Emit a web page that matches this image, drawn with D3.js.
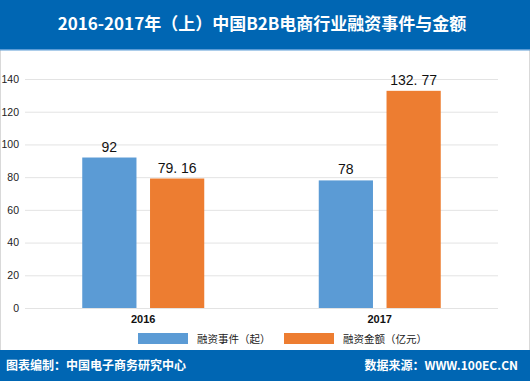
<!DOCTYPE html>
<html>
<head>
<meta charset="utf-8">
<script src="https://cdn.jsdelivr.net/npm/d3@7"></script>
<style>
  body { margin: 0; background: #fff; }
  svg { display: block; font-family: "Liberation Sans", Arial, "Noto Sans CJK SC", sans-serif; }
</style>
</head>
<body>
<div id="chart"></div>
<script>
// data
var years = ["2016", "2017"];
var seriesNames = ["融资事件（起）", "融资金额（亿元）"];
var deals = [92, 78];
var amounts = [79.16, 132.77];
var yTicks = [0, 20, 40, 60, 80, 100, 120, 140];
var colors = ["#5b9bd5", "#ed7d31"];

var W = 530, H = 381;
var svg = d3.select("#chart").append("svg")
    .attr("width", W)
    .attr("height", H);

// background frame
svg.append("rect")
    .attr("x", 0.5).attr("y", 0.5)
    .attr("width", W - 1).attr("height", H - 1)
    .attr("fill", "#fff")
    .attr("stroke", "#d9d9d9");

// header
svg.append("rect")
    .attr("x", 0).attr("y", 0)
    .attr("width", W).attr("height", 49)
    .attr("fill", "#0066b3");
svg.append("rect")
    .attr("x", 0).attr("y", 49)
    .attr("width", W).attr("height", 1.5)
    .attr("fill", "#5b9bd5");
svg.append("text")
    .attr("x", 262).attr("y", 30)
    .attr("text-anchor", "middle")
    .attr("fill", "#fff")
    .style("font-family", "'Noto Sans CJK SC', sans-serif")
    .style("font-weight", "bold")
    .style("font-size", "17px")
    .text("2016-2017年（上）中国B2B电商行业融资事件与金额");

// footer
svg.append("rect")
    .attr("x", 0).attr("y", 350)
    .attr("width", W).attr("height", 31)
    .attr("fill", "#0066b3");
svg.append("text")
    .attr("x", 6).attr("y", 370)
    .attr("fill", "#fff")
    .style("font-family", "'Noto Sans CJK SC', sans-serif")
    .style("font-weight", "bold")
    .style("font-size", "12px")
    .text("图表编制：中国电子商务研究中心");
svg.append("text")
    .attr("x", 518).attr("y", 370)
    .attr("text-anchor", "end")
    .attr("fill", "#fff")
    .style("font-family", "'Noto Sans CJK SC', sans-serif")
    .style("font-weight", "bold")
    .style("font-size", "12px")
    .text("数据来源：WWW.100EC.CN");

// scales
var x0 = d3.scaleBand()
    .domain(years)
    .range([25, 498]);

var x1 = d3.scaleBand()
    .domain([0, 1])
    .range([0, 122])
    .paddingInner(0.2);

var y = d3.scaleLinear()
    .domain([0, 140])
    .range([308, 79]);

// gridlines + y labels
var yAxis = d3.axisLeft(y)
    .tickValues(yTicks)
    .tickSize(-473)
    .tickPadding(6);

var gy = svg.append("g")
    .attr("transform", "translate(25,0)")
    .call(yAxis);
gy.select(".domain").remove();
gy.selectAll(".tick line").attr("stroke", "#e3e3e3");
gy.selectAll(".tick text")
    .attr("fill", "#222")
    .style("font-size", "10.5px");

// bars
var rows = years.map(function(yr, i) {
    return {year: yr, vals: [deals[i], amounts[i]]};
});

var groups = svg.selectAll(".group")
    .data(rows)
    .enter()
    .append("g")
    .attr("class", "group")
    .attr("transform", function(d) {
        return "translate(" + (x0(d.year) + x0.bandwidth() / 2 - 61) + ",0)";
    });

groups.selectAll("rect")
    .data(function(d) { return d.vals; })
    .enter()
    .append("rect")
    .attr("x", function(d, i) { return x1(i); })
    .attr("y", function(d) { return y(d); })
    .attr("width", x1.bandwidth())
    .attr("height", function(d) { return y(0) - y(d); })
    .attr("fill", function(d, i) { return colors[i]; });

groups.selectAll(".val")
    .data(function(d) { return d.vals; })
    .enter()
    .append("text")
    .attr("class", "val")
    .attr("x", function(d, i) { return x1(i) + x1.bandwidth() / 2; })
    .attr("y", function(d) { return y(d) - 6; })
    .attr("text-anchor", "middle")
    .attr("fill", "#111")
    .style("font-size", "14px")
    .text(function(d) { return String(d).replace(".", ". "); });

// x labels
svg.selectAll(".xlab")
    .data(years)
    .enter()
    .append("text")
    .attr("class", "xlab")
    .attr("x", function(d) { return x0(d) + x0.bandwidth() / 2; })
    .attr("y", 323)
    .attr("text-anchor", "middle")
    .attr("fill", "#111")
    .style("font-size", "11px")
    .style("font-weight", "bold")
    .text(function(d) { return d; });

// legend
var legendX = [138, 284];
var legend = svg.selectAll(".legend")
    .data(seriesNames)
    .enter()
    .append("g")
    .attr("class", "legend")
    .attr("transform", function(d, i) { return "translate(" + legendX[i] + ",333)"; });

legend.append("rect")
    .attr("width", 50)
    .attr("height", 11)
    .attr("fill", function(d, i) { return colors[i]; });

legend.append("text")
    .attr("x", 59)
    .attr("y", 9.5)
    .attr("fill", "#222")
    .style("font-family", "'Noto Sans CJK SC', sans-serif")
    .style("font-size", "10.5px")
    .text(function(d) { return d; });
</script>
</body>
</html>
